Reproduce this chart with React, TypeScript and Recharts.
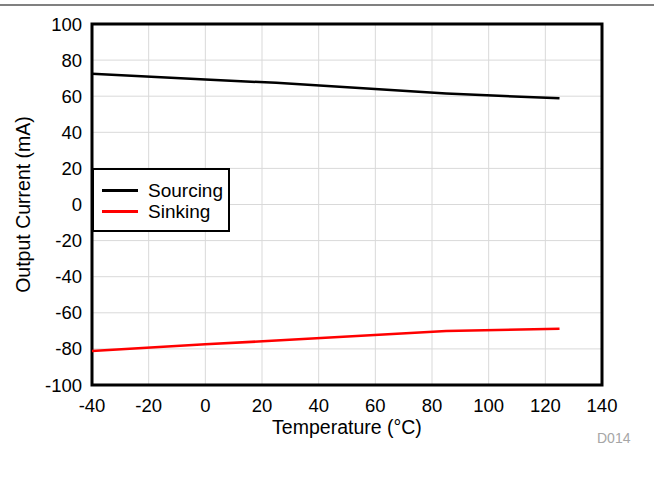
import React from 'react';
import {
  LineChart,
  Line,
  XAxis,
  YAxis,
  CartesianGrid,
  Legend,
  ReferenceArea,
} from 'recharts';

const temps = [-40, 0, 25, 85, 125];
const sourcing = [72.5, 69.2, 67.4, 61.5, 58.8];
const sinking = [-81.2, -77.4, -75.4, -70.1, -68.8];

const xTicks = [-40, -20, 0, 20, 40, 60, 80, 100, 120, 140];
const yTicks = [-100, -80, -60, -40, -20, 0, 20, 40, 60, 80, 100];

const SERIES = [
  { key: 'sourcing', name: 'Sourcing', color: '#000000' },
  { key: 'sinking', name: 'Sinking', color: '#ff0000' },
];

const data = temps.map((t, i) => ({ temp: t, sourcing: sourcing[i], sinking: sinking[i] }));

const FONT = '"Liberation Sans", Arial, sans-serif';

function LegendBox() {
  return (
    <div
      style={{
        boxSizing: 'border-box',
        width: 138,
        height: 64,
        border: '2px solid #000',
        background: '#fff',
        padding: '10px 0 0 8px',
        fontFamily: FONT,
        fontSize: 19,
        color: '#000',
      }}
    >
      {SERIES.map(s => (
        <div key={s.key} style={{ display: 'flex', alignItems: 'center', height: 21 }}>
          <span style={{ display: 'inline-block', width: 36, height: 3, background: s.color, marginRight: 10 }} />
          <span>{s.name}</span>
        </div>
      ))}
    </div>
  );
}

export default function App() {
  return (
    <div style={{ position: 'fixed', left: 0, top: 0, width: 654, height: 485, background: '#fff', fontFamily: FONT }}>
      <div style={{ position: 'absolute', left: 0, top: 4, width: 654, height: 2, background: '#808080' }} />
      <LineChart
        width={654}
        height={485}
        data={data}
        margin={{ top: 24, right: 52, bottom: 35, left: 0 }}
      >
        <CartesianGrid stroke="#d9d9d9" strokeWidth={1} />
        <XAxis
          dataKey="temp"
          type="number"
          domain={[-40, 140]}
          ticks={xTicks}
          interval={0}
          axisLine={false}
          tickLine={false}
          tickMargin={8}
          height={65}
          tick={{ fill: '#000', fontSize: 18.5, fontFamily: FONT }}
          label={{ value: 'Temperature (°C)', position: 'insideBottom', offset: 16, fill: '#000', fontSize: 19.5, fontFamily: FONT }}
        />
        <YAxis
          type="number"
          domain={[-100, 100]}
          ticks={yTicks}
          interval={0}
          axisLine={false}
          tickLine={false}
          tickMargin={4}
          width={92}
          tick={{ fill: '#000', fontSize: 18.5, fontFamily: FONT }}
          label={{
            value: 'Output Current (mA)',
            angle: -90,
            position: 'insideLeft',
            offset: 23,
            fill: '#000',
            fontSize: 19.5,
            fontFamily: FONT,
            style: { textAnchor: 'middle' },
          }}
        />
        {SERIES.map(s => (
          <Line
            key={s.key}
            type="linear"
            dataKey={s.key}
            name={s.name}
            stroke={s.color}
            strokeWidth={2.5}
            dot={false}
            activeDot={false}
            isAnimationActive={false}
          />
        ))}
        <ReferenceArea
          x1={-40}
          x2={140}
          y1={-100}
          y2={100}
          fill="none"
          fillOpacity={0}
          stroke="#000"
          strokeWidth={3}
          ifOverflow="visible"
        />
        <Legend
          layout="vertical"
          align="center"
          verticalAlign="middle"
          wrapperStyle={{ left: 92, top: 168, width: 138, height: 64 }}
          content={() => <LegendBox />}
        />
      </LineChart>
      <div style={{ position: 'absolute', left: 597, top: 430, fontSize: 14, color: '#a6a6a6', lineHeight: '16px' }}>D014</div>
    </div>
  );
}
